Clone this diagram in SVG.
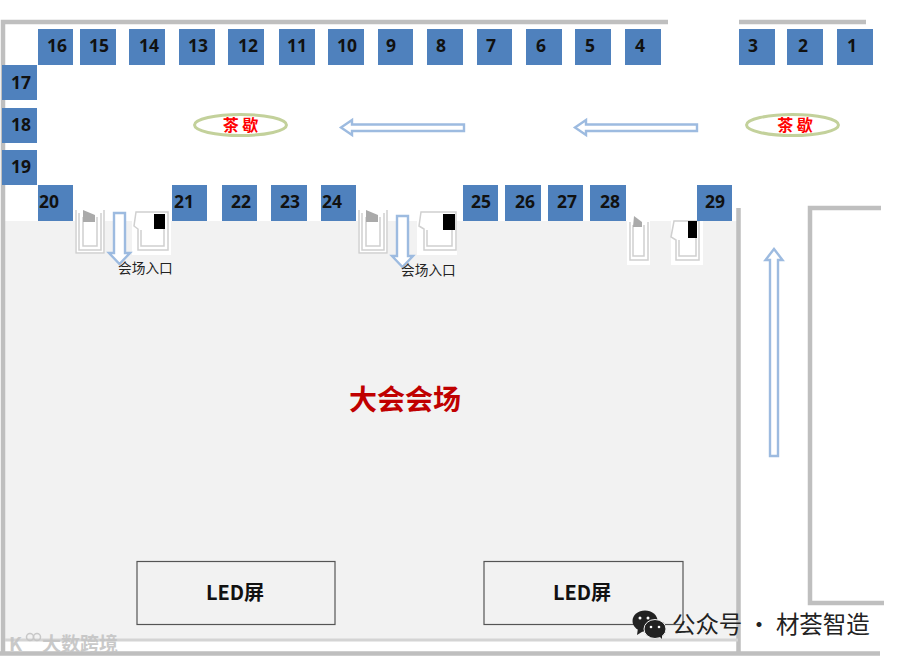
<svg xmlns="http://www.w3.org/2000/svg" width="900" height="661" viewBox="0 0 900 661">
<style>
text{font-family:"Noto Sans CJK SC","Liberation Sans",sans-serif}
.b rect{fill:#4f81bd}
.b text{font-family:"Open Sans","Liberation Sans",sans-serif;font-size:17.500px;font-weight:700;fill:#111;text-anchor:middle}
.w{fill:none;stroke:#bfbfbf;stroke-width:4.500}
.a{fill:#fff;stroke:#9dbbe0;stroke-width:2.400}
.e{fill:#fff;stroke:#c3d19b;stroke-width:3}
.t{fill:#f00;font-size:16px;font-weight:700;text-anchor:middle}
.l{fill:#222;font-size:13.700px}
.d{fill:#fff}
.k{fill:none;stroke:#d0d0d0;stroke-width:1.500}
.led{fill:none;stroke:#555;stroke-width:1.200}
.lt{fill:#111;font-size:20px;font-weight:700;text-anchor:middle}
</style>
<rect width="900" height="661" fill="#fff"/>
<rect id="hall" x="5" y="221" width="733" height="419" fill="#f2f2f2"/>
<g id="walls">
<path class="w" d="M668 22H3V655M739 22H866M738.500 208V655M0 653.500H880M881 208H810V603H884"/>
<path d="M5 640H738" fill="none" stroke="#d4d4d4" stroke-width="3"/>
</g>
<g id="doors">
<g id="door1">
<rect class="d" x="75" y="221" width="30" height="33"/><rect class="d" x="132" y="221" width="39" height="34"/>
<path class="k" d="M79 213V250H101V213M83 217V246H97V217M76 210V253H104V210"/><path d="M83 210L95 215V222H83Z" fill="#aaa"/>
<path class="k" d="M136 212H168V250H138V229L134 226ZM141 230V246H164V214"/><rect x="154" y="214" width="11" height="15" fill="#000"/>
</g>
<g id="door2">
<rect class="d" x="358" y="221" width="30" height="33"/><rect class="d" x="417" y="221" width="40" height="34"/>
<path class="k" d="M362 213V250H384V213M366 217V246H380V217M359 210V253H387V210"/><path d="M366 210L378 215V222H366Z" fill="#aaa"/>
<path class="k" d="M421 212H456V250H424V229L419 226ZM427 230V246H452V214"/><rect x="443" y="214" width="12" height="16" fill="#000"/>
</g>
<g id="door3">
<rect class="d" x="627" y="221" width="23" height="44"/><rect class="d" x="671" y="221" width="32" height="44"/>
<path class="k" d="M630 222V260H648V222M633 225V256H644V225"/><path d="M634 216L642 222V227H633Z" fill="#aaa"/>
<path class="k" d="M674 221H699V260H676V240L671 237ZM679 240V256H696V222"/><rect x="688" y="221" width="9" height="17" fill="#000"/>
</g>
</g>
<g id="booths" class="b">
<g id="b16"><rect x="38" y="29" width="35" height="36"/><text x="57" y="52">16</text></g>
<g id="b15"><rect x="80" y="29" width="36" height="36"/><text x="99" y="52">15</text></g>
<g id="b14"><rect x="129" y="29" width="36" height="36"/><text x="149" y="52">14</text></g>
<g id="b13"><rect x="179" y="29" width="36" height="36"/><text x="198" y="52">13</text></g>
<g id="b12"><rect x="228" y="29" width="36" height="36"/><text x="248" y="52">12</text></g>
<g id="b11"><rect x="279" y="29" width="36" height="36"/><text x="297" y="52">11</text></g>
<g id="b10"><rect x="328" y="29" width="36" height="36"/><text x="347" y="52">10</text></g>
<g id="b9"><rect x="378" y="29" width="35" height="36"/><text x="391" y="52">9</text></g>
<g id="b8"><rect x="427" y="29" width="36" height="36"/><text x="441" y="52">8</text></g>
<g id="b7"><rect x="477" y="29" width="35" height="36"/><text x="491" y="52">7</text></g>
<g id="b6"><rect x="526" y="29" width="36" height="36"/><text x="541" y="52">6</text></g>
<g id="b5"><rect x="575" y="29" width="36" height="36"/><text x="590" y="52">5</text></g>
<g id="b4"><rect x="625" y="29" width="36" height="36"/><text x="640" y="52">4</text></g>
<g id="b3"><rect x="739" y="29" width="36" height="36"/><text x="753" y="52">3</text></g>
<g id="b2"><rect x="787" y="29" width="36" height="36"/><text x="803" y="52">2</text></g>
<g id="b1"><rect x="837" y="29" width="36" height="36"/><text x="852" y="52">1</text></g>
<g id="b17"><rect x="2" y="65" width="35" height="35"/><text x="21" y="89">17</text></g>
<g id="b18"><rect x="2" y="108" width="35" height="35"/><text x="21" y="131">18</text></g>
<g id="b19"><rect x="2" y="150" width="35" height="35"/><text x="21" y="173">19</text></g>
<g id="b20"><rect x="38" y="185" width="35" height="36"/><text x="49" y="208">20</text></g>
<g id="b21"><rect x="172" y="185" width="35" height="36"/><text x="184" y="208">21</text></g>
<g id="b22"><rect x="222" y="185" width="35" height="36"/><text x="241" y="208">22</text></g>
<g id="b23"><rect x="271" y="185" width="36" height="36"/><text x="290" y="208">23</text></g>
<g id="b24"><rect x="321" y="185" width="35" height="36"/><text x="332" y="208">24</text></g>
<g id="b25"><rect x="463" y="185" width="35" height="36"/><text x="481" y="208">25</text></g>
<g id="b26"><rect x="505" y="185" width="36" height="36"/><text x="525" y="208">26</text></g>
<g id="b27"><rect x="548" y="185" width="35" height="36"/><text x="567" y="208">27</text></g>
<g id="b28"><rect x="590" y="185" width="36" height="36"/><text x="610" y="208">28</text></g>
<g id="b29"><rect x="697" y="185" width="35" height="36"/><text x="715" y="208">29</text></g>
</g>
<g id="connectors">
<path class="a" d="M464 125H352V120.500L341 128L352 135.500V131.500H464Z" transform="translate(0,-0.500)"/>
<path class="a" d="M697 125H586V120.500L575 128L586 135.500V131.500H697Z" transform="translate(0,-0.500)"/>
<path class="a" d="M770 456V260H765.500L774 249L782.500 260H778V456Z"/>
<path class="a" d="M114 213H125V253H130L119.500 264L109 253H114Z" stroke-width="1.400"/>
<path class="a" d="M397 216H408V256H413L402.500 267L392 256H397Z" stroke-width="1.400"/>
</g>
<g id="tea1"><ellipse class="e" cx="240.500" cy="125" rx="46" ry="10.500"/><text class="t" x="240.500" y="130.500">茶 歇</text></g>
<g id="tea2"><ellipse class="e" cx="792.500" cy="125" rx="46" ry="10.500"/><text class="t" x="795" y="130.500">茶 歇</text></g>
<text class="l" x="118" y="273">会场入口</text>
<text class="l" x="401" y="275">会场入口</text>
<text x="405" y="410" fill="#c00000" font-size="28" font-weight="700" text-anchor="middle">大会会场</text>
<g id="led1"><rect class="led" x="137" y="561.500" width="198" height="63"/><text class="lt" x="235" y="600">LED屏</text></g>
<g id="led2"><rect class="led" x="484" y="561.500" width="199" height="63"/><text class="lt" x="582" y="600">LED屏</text></g>
<g id="mark1" opacity=".9">
<text x="42" y="651" font-size="19" font-weight="700" fill="#c4c4c4">大数跨境</text>
<text x="9" y="651" font-size="19" font-weight="700" fill="#c4c4c4">K</text>
<circle cx="30" cy="637" r="3.500" fill="none" stroke="#c4c4c4" stroke-width="1.500"/><circle cx="37" cy="637" r="3.500" fill="none" stroke="#c4c4c4" stroke-width="1.500"/>
</g>
<g id="mark2">
<ellipse cx="645" cy="621" rx="12.500" ry="10.500" fill="#222"/><path d="M638 628L637 635L645 630Z" fill="#222"/>
<ellipse cx="655" cy="629" rx="11" ry="9.500" fill="#222" stroke="#f1f1f1"/><path d="M659 636L662 639V634Z" fill="#222"/>
<circle cx="640" cy="618" r="1.500" fill="#fff"/><circle cx="648" cy="618" r="1.500" fill="#fff"/><circle cx="651" cy="627" r="1.300" fill="#fff"/><circle cx="659" cy="627" r="1.300" fill="#fff"/>
<text x="672" y="633" font-size="23.500" fill="#222" letter-spacing="-.1">公众号 · 材荟智造</text>
</g>
</svg>
